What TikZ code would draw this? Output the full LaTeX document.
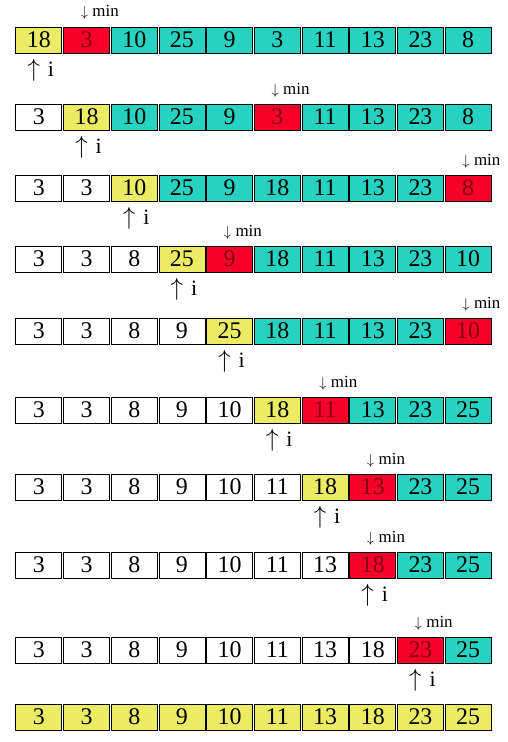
\documentclass[tikz,border=0pt]{standalone}
\usepackage{fontspec}
\setmainfont{Liberation Serif}
\usepackage{amsmath}
\definecolor{curyellow}{RGB}{236,236,100}
\definecolor{minred}{RGB}{244,0,40}
\definecolor{minink}{RGB}{130,0,20}
\definecolor{resttea}{RGB}{40,210,192}
\tikzset{
	cell/.style={draw, line width=0.8bp, minimum width=46bp, minimum height=26bp, inner sep=0pt, font=\fontsize{24}{24}\selectfont},
	marklabel/.style={inner sep=0pt}
}
\newcommand{\cell}[5] % row, column, top in px, value, colour
{
	\node[cell, fill=#5] (r#1c#2) at ({15+(#2-0.5)*47.7}, {#3+13}) {#4};
}
\newcommand{\mincell}[4] % row, column, top in px, value
{
	\node[cell, fill=minred, text=minink] (r#1c#2) at ({15+(#2-0.5)*47.7}, {#3+13}) {#4};
}
\newcommand{\minmark}[3] % row, column, top in px
{
	% arrow sits over the centre of the cell, text to its right
	\node[marklabel, anchor=base west] (min#1) at ({15+(#2-0.5)*47.7-6}, {#3-10}) {{\fontsize{14}{14}\selectfont$\downarrow$}\hspace{4.5bp}{\fontsize{17}{17}\selectfont min}};
}
\newcommand{\imark}[3] % row, column, bottom in px
{
	\node[marklabel, anchor=north west] (i#1) at ({15+(#2-0.5)*47.7-11.5}, {#3+6}) {{\fontsize{25}{25}\selectfont$\uparrow$}\hspace{8bp}{\fontsize{22}{22}\selectfont i}};
}

\begin{document}
\begin{tikzpicture}[x=1bp, y=-1bp]
	% page: 508 x 742 px, y runs downwards
	\useasboundingbox (0,0) rectangle (508,742);

	% pass 1
	\cell{1}{1}{27}{18}{curyellow};
	\mincell{1}{2}{27}{3};
	\cell{1}{3}{27}{10}{resttea};
	\cell{1}{4}{27}{25}{resttea};
	\cell{1}{5}{27}{9}{resttea};
	\cell{1}{6}{27}{3}{resttea};
	\cell{1}{7}{27}{11}{resttea};
	\cell{1}{8}{27}{13}{resttea};
	\cell{1}{9}{27}{23}{resttea};
	\cell{1}{10}{27}{8}{resttea};
	\minmark{1}{2}{27};
	\imark{1}{1}{53};

	% pass 2
	\cell{2}{1}{104}{3}{white};
	\cell{2}{2}{104}{18}{curyellow};
	\cell{2}{3}{104}{10}{resttea};
	\cell{2}{4}{104}{25}{resttea};
	\cell{2}{5}{104}{9}{resttea};
	\mincell{2}{6}{104}{3};
	\cell{2}{7}{104}{11}{resttea};
	\cell{2}{8}{104}{13}{resttea};
	\cell{2}{9}{104}{23}{resttea};
	\cell{2}{10}{104}{8}{resttea};
	\minmark{2}{6}{104};
	\imark{2}{2}{130};

	% pass 3
	\cell{3}{1}{175}{3}{white};
	\cell{3}{2}{175}{3}{white};
	\cell{3}{3}{175}{10}{curyellow};
	\cell{3}{4}{175}{25}{resttea};
	\cell{3}{5}{175}{9}{resttea};
	\cell{3}{6}{175}{18}{resttea};
	\cell{3}{7}{175}{11}{resttea};
	\cell{3}{8}{175}{13}{resttea};
	\cell{3}{9}{175}{23}{resttea};
	\mincell{3}{10}{175}{8};
	\minmark{3}{10}{175};
	\imark{3}{3}{201};

	% pass 4
	\cell{4}{1}{246}{3}{white};
	\cell{4}{2}{246}{3}{white};
	\cell{4}{3}{246}{8}{white};
	\cell{4}{4}{246}{25}{curyellow};
	\mincell{4}{5}{246}{9};
	\cell{4}{6}{246}{18}{resttea};
	\cell{4}{7}{246}{11}{resttea};
	\cell{4}{8}{246}{13}{resttea};
	\cell{4}{9}{246}{23}{resttea};
	\cell{4}{10}{246}{10}{resttea};
	\minmark{4}{5}{246};
	\imark{4}{4}{272};

	% pass 5
	\cell{5}{1}{318}{3}{white};
	\cell{5}{2}{318}{3}{white};
	\cell{5}{3}{318}{8}{white};
	\cell{5}{4}{318}{9}{white};
	\cell{5}{5}{318}{25}{curyellow};
	\cell{5}{6}{318}{18}{resttea};
	\cell{5}{7}{318}{11}{resttea};
	\cell{5}{8}{318}{13}{resttea};
	\cell{5}{9}{318}{23}{resttea};
	\mincell{5}{10}{318}{10};
	\minmark{5}{10}{318};
	\imark{5}{5}{344};

	% pass 6
	\cell{6}{1}{397}{3}{white};
	\cell{6}{2}{397}{3}{white};
	\cell{6}{3}{397}{8}{white};
	\cell{6}{4}{397}{9}{white};
	\cell{6}{5}{397}{10}{white};
	\cell{6}{6}{397}{18}{curyellow};
	\mincell{6}{7}{397}{11};
	\cell{6}{8}{397}{13}{resttea};
	\cell{6}{9}{397}{23}{resttea};
	\cell{6}{10}{397}{25}{resttea};
	\minmark{6}{7}{397};
	\imark{6}{6}{423};

	% pass 7
	\cell{7}{1}{474}{3}{white};
	\cell{7}{2}{474}{3}{white};
	\cell{7}{3}{474}{8}{white};
	\cell{7}{4}{474}{9}{white};
	\cell{7}{5}{474}{10}{white};
	\cell{7}{6}{474}{11}{white};
	\cell{7}{7}{474}{18}{curyellow};
	\mincell{7}{8}{474}{13};
	\cell{7}{9}{474}{23}{resttea};
	\cell{7}{10}{474}{25}{resttea};
	\minmark{7}{8}{474};
	\imark{7}{7}{500};

	% pass 8
	\cell{8}{1}{552}{3}{white};
	\cell{8}{2}{552}{3}{white};
	\cell{8}{3}{552}{8}{white};
	\cell{8}{4}{552}{9}{white};
	\cell{8}{5}{552}{10}{white};
	\cell{8}{6}{552}{11}{white};
	\cell{8}{7}{552}{13}{white};
	\mincell{8}{8}{552}{18};
	\cell{8}{9}{552}{23}{resttea};
	\cell{8}{10}{552}{25}{resttea};
	\minmark{8}{8}{552};
	\imark{8}{8}{578};

	% pass 9
	\cell{9}{1}{637}{3}{white};
	\cell{9}{2}{637}{3}{white};
	\cell{9}{3}{637}{8}{white};
	\cell{9}{4}{637}{9}{white};
	\cell{9}{5}{637}{10}{white};
	\cell{9}{6}{637}{11}{white};
	\cell{9}{7}{637}{13}{white};
	\cell{9}{8}{637}{18}{white};
	\mincell{9}{9}{637}{23};
	\cell{9}{10}{637}{25}{resttea};
	\minmark{9}{9}{637};
	\imark{9}{9}{663};

	% sorted
	\cell{10}{1}{704}{3}{curyellow};
	\cell{10}{2}{704}{3}{curyellow};
	\cell{10}{3}{704}{8}{curyellow};
	\cell{10}{4}{704}{9}{curyellow};
	\cell{10}{5}{704}{10}{curyellow};
	\cell{10}{6}{704}{11}{curyellow};
	\cell{10}{7}{704}{13}{curyellow};
	\cell{10}{8}{704}{18}{curyellow};
	\cell{10}{9}{704}{23}{curyellow};
	\cell{10}{10}{704}{25}{curyellow};
\end{tikzpicture}
\end{document}
